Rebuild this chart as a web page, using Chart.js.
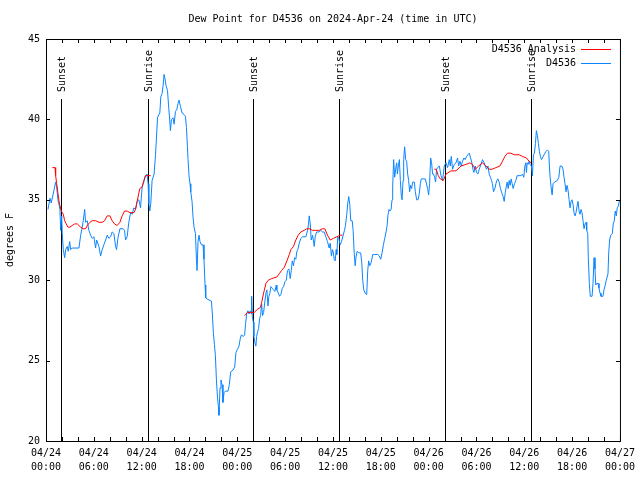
<!DOCTYPE html>
<html>
<head>
<meta charset="utf-8">
<script src="https://cdn.jsdelivr.net/npm/chart.js@4/dist/chart.umd.min.js"></script>
<style>
  body { margin: 0; background: #fff; }
  canvas { display: block; }
</style>
</head>
<body>
<canvas id="dewChart" width="640" height="480"></canvas>
<script>
// Hours since 2024-04-24 00:00 UTC
const obsHours = [
  0.25, 0.50, 0.66, 1.00, 1.21, 1.34, 1.50, 1.63, 1.75, 1.84, 1.97, 2.04, 2.17, 2.34, 2.47, 2.67, 2.79, 2.97, 3.09, 3.29,
  4.13, 4.35, 4.55, 4.67, 4.85, 4.97, 5.17, 5.38, 5.60, 5.80, 6.01, 6.22, 6.35, 6.64, 6.85, 7.05, 7.26, 7.48, 7.68, 7.89,
  8.10, 8.30, 8.52, 8.73, 8.85, 9.02, 9.27, 9.68, 9.85, 9.98, 10.18, 10.39, 10.61, 10.81, 11.02, 11.23, 11.43, 11.65, 11.86, 12.06,
  12.27, 12.48, 12.68, 12.81, 12.90, 13.02, 13.15, 13.31, 13.56, 13.74, 13.86, 13.99, 14.15, 14.28, 14.40, 14.56, 14.69, 14.81, 14.94, 15.06,
  15.24, 15.40, 15.53, 15.61, 15.74, 15.94, 16.07, 16.24, 16.40, 16.57, 16.69, 16.87, 17.07, 17.32, 17.49, 17.62, 17.74, 17.82, 17.94, 18.07,
  18.16, 18.32, 18.45, 18.57, 18.75, 18.87, 18.95, 19.07, 19.20, 19.32, 19.50, 19.70, 19.82, 19.95, 20.04, 20.32, 20.75, 20.87, 21.00, 21.13,
  21.25, 21.38, 21.50, 21.63, 21.70, 21.83, 21.95, 22.08, 22.20, 22.33, 22.50, 22.83, 23.00, 23.17, 23.45, 23.67, 23.83, 24.01, 24.21, 24.38,
  24.51, 24.76, 24.92, 25.04, 25.17, 25.33, 25.46, 25.63, 25.76, 25.80, 25.88, 26.01, 26.08, 26.21, 26.33, 26.42, 26.55, 26.67, 26.80, 26.92,
  27.05, 27.17, 27.30, 27.46, 27.59, 27.71, 27.84, 27.96, 28.09, 28.21, 28.39, 28.55, 28.71, 28.89, 28.96, 29.14, 29.30, 29.46, 29.64, 29.80,
  29.97, 30.14, 30.30, 30.47, 30.64, 30.77, 30.89, 31.05, 31.18, 31.34, 31.47, 31.59, 31.77, 31.97, 32.18, 32.60, 32.81, 32.93, 33.02, 33.15,
  33.27, 33.44, 33.65, 33.77, 33.94, 34.27, 34.47, 34.69, 34.90, 35.10, 35.31, 35.53, 35.65, 35.81, 35.94, 36.06, 36.15, 36.28, 36.40, 36.48,
  36.60, 36.73, 36.90, 37.07, 37.23, 37.44, 37.57, 37.73, 37.86, 37.98, 38.11, 38.23, 38.41, 38.53, 38.66, 38.78, 38.91, 39.04, 39.23, 39.48,
  39.61, 39.73, 39.86, 40.03, 40.23, 40.36, 40.48, 40.61, 40.79, 40.99, 41.20, 41.61, 41.82, 41.99, 42.16, 42.33, 42.49, 42.66, 42.79, 42.91,
  43.04, 43.16, 43.29, 43.41, 43.49, 43.61, 43.74, 43.86, 43.99, 44.08, 44.20, 44.33, 44.45, 44.58, 44.67, 44.79, 44.87, 44.99, 45.12, 45.24,
  45.37, 45.49, 45.62, 45.74, 45.87, 45.99, 46.21, 46.33, 46.50, 46.67, 46.83, 46.96, 47.08, 47.58, 47.87, 48.00, 48.12, 48.25, 48.37, 48.50,
  48.62, 48.75, 48.87, 49.00, 49.12, 49.34, 49.55, 49.75, 49.96, 50.18, 50.38, 50.59, 50.72, 50.84, 51.00, 51.22, 51.43, 51.63, 51.76, 51.93,
  52.09, 52.26, 52.43, 52.59, 52.76, 52.93, 53.10, 53.26, 53.43, 53.56, 53.68, 53.85, 54.01, 54.18, 54.35, 54.56, 54.76, 54.97, 55.10, 55.26,
  55.44, 55.60, 55.76, 55.89, 56.01, 56.14, 56.31, 56.44, 56.56, 56.69, 56.85, 57.01, 57.19, 57.35, 57.48, 57.60, 57.73, 57.85, 57.98, 58.10,
  58.23, 58.35, 58.48, 58.60, 58.77, 58.94, 59.10, 59.61, 59.77, 59.94, 60.07, 60.19, 60.27, 60.36, 60.48, 60.61, 60.73, 60.90, 61.02, 61.15,
  61.27, 61.40, 61.52, 61.65, 61.77, 61.90, 62.02, 62.15, 62.27, 62.48, 62.70, 62.90, 63.07, 63.15, 63.24, 63.36, 63.49, 63.61, 63.78, 64.15,
  64.33, 64.49, 64.70, 64.86, 64.99, 65.11, 65.24, 65.36, 65.49, 65.62, 65.74, 65.87, 65.99, 66.12, 66.24, 66.37, 66.49, 66.62, 66.74, 66.87,
  66.99, 67.12, 67.24, 67.37, 67.50, 67.62, 67.75, 67.83, 67.96, 68.03, 68.16, 68.28, 68.50, 68.62, 68.75, 68.87, 68.96, 69.08, 69.25, 69.37,
  69.50, 69.62, 69.87, 70.00, 70.16, 70.29, 70.50, 70.59, 70.71, 70.84, 71.04, 71.16, 71.29, 71.41, 71.54, 71.66, 71.79, 71.91, 72.00
];
const obsDewPoint = [
  34.4, 35.1, 34.8, 35.6, 36.1, 35.8, 35.0, 34.7, 34.4, 33.1, 34.0, 32.9, 31.9, 31.4, 31.9, 32.1, 31.8, 32.4, 31.9, 32.0,
  32.0, 32.8, 33.3, 33.7, 34.4, 33.6, 33.7, 33.1, 32.8, 32.6, 32.7, 32.0, 32.5, 32.1, 31.5, 31.9, 32.2, 32.5, 32.8, 32.6,
  32.7, 33.0, 32.9, 32.1, 31.9, 32.6, 33.2, 33.2, 33.1, 32.5, 32.7, 33.6, 34.2, 34.1, 34.5, 34.4, 34.9, 35.0, 34.5, 35.8,
  36.1, 36.5, 36.6, 36.0, 34.8, 34.3, 34.8, 36.2, 36.6, 37.8, 38.9, 40.1, 40.3, 40.4, 41.4, 41.6, 42.1, 42.8, 42.5, 42.1,
  41.8, 40.7, 39.9, 39.3, 40.0, 40.1, 39.7, 40.5, 40.6, 41.0, 41.2, 40.8, 40.4, 40.3, 40.2, 39.5, 38.3, 37.5, 36.5, 36.0,
  35.5, 34.9, 33.9, 33.3, 32.9, 31.3, 30.6, 32.4, 32.8, 32.4, 32.2, 32.2, 31.3, 29.7, 28.9, 28.8, 28.7, 27.9, 26.7, 26.0,
  25.3, 23.8, 22.8, 22.1, 21.6, 23.3, 23.8, 23.5, 22.4, 23.0, 23.1, 23.1, 23.5, 24.3, 24.4, 24.6, 25.5, 25.7, 25.9, 26.4,
  26.6, 26.5, 26.6, 27.3, 27.9, 28.1, 27.9, 28.1, 27.9, 29.0, 27.7, 27.4, 26.5, 26.1, 25.9, 26.5, 26.8, 27.0, 27.6, 27.8,
  28.5, 27.8, 28.0, 28.7, 29.2, 29.4, 28.4, 29.0, 29.2, 29.6, 29.5, 29.4, 29.3, 29.7, 29.4, 29.2, 29.0, 29.1, 29.5, 29.6,
  29.9, 30.0, 30.6, 30.7, 30.1, 30.6, 31.2, 30.9, 31.4, 31.3, 31.8, 31.9, 32.3, 32.6, 32.7, 32.7, 33.1, 33.5, 34.0, 33.5,
  32.5, 32.8, 32.1, 32.7, 33.0, 33.0, 33.1, 33.0, 33.0, 32.7, 32.4, 32.0, 32.3, 31.5, 31.9, 31.7, 31.3, 31.2, 31.9, 31.6,
  32.7, 32.6, 32.2, 32.4, 32.7, 33.1, 33.4, 34.1, 34.8, 35.2, 34.7, 33.7, 33.7, 33.1, 31.7, 30.9, 31.5, 31.8, 31.7, 31.7,
  31.1, 30.0, 29.4, 29.2, 29.1, 30.6, 31.2, 30.9, 31.1, 31.6, 31.6, 31.6, 31.5, 31.3, 31.7, 32.2, 32.6, 33.0, 33.4, 34.1,
  34.4, 34.3, 34.4, 35.0, 35.8, 37.5, 36.4, 36.9, 37.3, 36.6, 37.1, 37.5, 36.2, 35.2, 35.0, 36.2, 37.5, 38.3, 37.5, 37.4,
  36.6, 36.2, 35.5, 35.9, 35.7, 36.1, 36.1, 35.5, 35.0, 35.0, 35.4, 36.0, 36.3, 36.3, 35.7, 35.3, 36.0, 37.6, 37.3, 36.6,
  36.6, 36.4, 36.1, 36.9, 37.0, 37.1, 36.5, 36.2, 37.1, 37.3, 37.0, 37.5, 37.1, 37.7, 36.9, 37.2, 37.3, 37.6, 37.1, 37.4,
  37.1, 37.4, 37.6, 37.5, 37.7, 37.8, 37.9, 37.6, 37.3, 36.9, 36.7, 37.1, 36.7, 36.6, 36.9, 37.2, 37.5, 37.3, 37.1, 36.9,
  37.1, 36.6, 36.4, 36.2, 36.0, 35.5, 35.7, 36.0, 36.2, 36.3, 36.1, 35.7, 35.4, 35.2, 34.9, 35.4, 35.8, 36.1, 35.7, 36.2,
  35.9, 36.3, 36.0, 35.7, 36.0, 36.2, 36.5, 36.5, 36.6, 36.4, 37.1, 37.3, 36.7, 37.3, 37.2, 37.4, 37.2, 37.1, 36.5, 37.8,
  37.9, 38.5, 39.3, 39.0, 38.5, 38.0, 37.7, 37.5, 37.6, 37.8, 38.0, 38.1, 38.0, 37.1, 36.4, 35.8, 35.3, 36.0, 36.1, 36.2,
  36.4, 37.1, 37.1, 36.9, 36.4, 36.0, 35.5, 35.9, 35.6, 35.0, 34.5, 34.9, 35.0, 34.7, 34.2, 34.0, 34.2, 34.6, 34.9, 34.3,
  34.1, 34.4, 34.2, 33.7, 33.2, 33.5, 33.6, 33.1, 32.9, 31.4, 29.8, 29.0, 29.0, 29.8, 31.4, 30.7, 29.7, 29.8, 29.8, 29.5,
  29.2, 29.0, 29.0, 29.4, 29.7, 30.0, 30.4, 31.7, 32.5, 32.8, 32.9, 33.5, 33.7, 34.3, 34.0, 34.5, 34.6, 34.9, 35.0
];

// Analysis series, null marks the gaps between runs
const anaHours = [
  0.79, 1.13, 1.21, 1.34, 1.50, 1.67, 1.92, 2.17, 2.34, 2.54, 2.75, 3.01, 3.29, 3.59, 3.92, 4.13, 4.35, 4.67, 4.97, 5.17,
  5.51, 5.80, 6.22, 6.64, 7.05, 7.35, 7.68, 8.01, 8.30, 8.60, 8.93, 9.27, 9.55, 9.85, 10.18, 10.52, 11.02, 11.23, 11.43, 11.77,
  12.06, 12.27, 12.48, 12.90, 13.15, 19.0,
  24.92, 25.30, 25.71, 26.13, 26.55, 26.89, 27.05, 27.30, 27.59, 27.89, 28.30, 28.96, 29.26, 29.55, 29.89, 30.22, 30.52, 30.72, 31.05, 31.34,
  31.64, 31.97, 32.39, 32.72, 33.02, 33.44, 33.85, 34.27, 34.69, 34.98, 35.31, 35.65, 36.06, 36.48, 36.90, 37.19, 43.0,
  48.71, 48.96, 49.21, 49.46, 49.84, 50.18, 50.80, 51.43, 52.06, 52.68, 53.18, 53.51, 53.85, 54.26, 54.76, 55.19, 55.60, 55.94, 56.44, 56.94,
  57.27, 57.57, 57.89, 58.32, 58.73, 59.36, 59.77, 60.27, 60.61, 60.86
];
const anaDewPoint = [
  37.0, 37.0, 36.5, 36.0, 35.4, 34.8, 34.3, 34.1, 33.7, 33.5, 33.3, 33.3, 33.4, 33.5, 33.5, 33.4, 33.3, 33.2, 33.2, 33.4,
  33.6, 33.7, 33.7, 33.6, 33.6, 33.7, 34.0, 34.0, 33.7, 33.5, 33.4, 33.6, 34.0, 34.3, 34.3, 34.2, 34.2, 34.4, 34.9, 35.7,
  35.8, 36.2, 36.5, 36.5, 36.5, null,
  27.8, 28.0, 28.0, 28.0, 28.2, 28.3, 28.6, 29.2, 29.8, 30.0, 30.1, 30.2, 30.4, 30.6, 30.8, 31.2, 31.6, 31.9, 32.1, 32.5,
  32.8, 33.0, 33.1, 33.2, 33.2, 33.1, 33.1, 33.1, 33.2, 33.2, 32.8, 32.5, 32.6, 32.7, 32.8, 32.8, null,
  36.9, 36.9, 36.5, 36.3, 36.2, 36.6, 36.8, 36.8, 37.1, 37.2, 37.3, 37.2, 36.9, 37.1, 37.3, 37.1, 36.9, 36.9, 37.0, 37.1,
  37.4, 37.7, 37.9, 37.9, 37.8, 37.8, 37.7, 37.6, 37.4, 37.3
];

const sunEventHours = [1.92, 12.81, 26.0, 36.73, 50.04, 60.8];
const sunEventLabels = ['Sunset', 'Sunrise', 'Sunset', 'Sunrise', 'Sunset', 'Sunrise'];

const tickDates = ['04/24', '04/24', '04/24', '04/24', '04/25', '04/25', '04/25', '04/25', '04/26', '04/26', '04/26', '04/26', '04/27'];
const tickTimes = ['00:00', '06:00', '12:00', '18:00', '00:00', '06:00', '12:00', '18:00', '00:00', '06:00', '12:00', '18:00', '00:00'];

const FONT = '"DejaVu Sans Mono", "Liberation Mono", monospace';

const toPoints = (xs, ys) => xs.map((x, i) => ({ x: x, y: ys[i] }));

// Inward tick marks and frame, gnuplot style
const framePlugin = {
    id: 'frame',
    afterDraw(chart) {
        const { ctx, chartArea: a, scales } = chart;
        const L = 4;
        ctx.save();
        ctx.strokeStyle = '#000';
        ctx.lineWidth = 1;
        ctx.beginPath();
        scales.x.ticks.forEach(t => {
            const px = Math.round(scales.x.getPixelForValue(t.value)) + 0.5;
            ctx.moveTo(px, a.bottom); ctx.lineTo(px, a.bottom - L);
            ctx.moveTo(px, a.top); ctx.lineTo(px, a.top + L);
        });
        scales.y.ticks.forEach(t => {
            const py = Math.round(scales.y.getPixelForValue(t.value)) + 0.5;
            ctx.moveTo(a.left, py); ctx.lineTo(a.left + L, py);
            ctx.moveTo(a.right, py); ctx.lineTo(a.right - L, py);
        });
        ctx.stroke();
        ctx.strokeRect(a.left + 0.5, a.top + 0.5, a.right - a.left, a.bottom - a.top);
        ctx.restore();
    }
};

// Sunrise / sunset markers
const sunPlugin = {
    id: 'sunLines',
    beforeDatasetsDraw(chart) {
        const { ctx, chartArea: a, scales } = chart;
        ctx.save();
        ctx.strokeStyle = '#000';
        ctx.fillStyle = '#000';
        ctx.lineWidth = 1;
        ctx.font = '10px ' + FONT;
        sunEventHours.forEach((h, i) => {
            const px = Math.round(scales.x.getPixelForValue(h)) + 0.5;
            ctx.beginPath();
            ctx.moveTo(px, 99);
            ctx.lineTo(px, a.bottom);
            ctx.stroke();
            ctx.save();
            ctx.translate(px + 1, 92);
            ctx.rotate(-Math.PI / 2);
            ctx.textAlign = 'left';
            ctx.textBaseline = 'middle';
            ctx.fillText(sunEventLabels[i], 0, 0);
            ctx.restore();
        });
        ctx.restore();
    }
};

// Legend at top right: text then line sample
const legendPlugin = {
    id: 'gpLegend',
    afterDraw(chart) {
        const { ctx } = chart;
        ctx.save();
        ctx.font = '10px ' + FONT;
        ctx.textAlign = 'right';
        ctx.textBaseline = 'middle';
        chart.data.datasets.forEach((ds, i) => {
            const y = 49 + i * 14;
            ctx.fillStyle = '#000';
            ctx.fillText(ds.label, 576, y);
            ctx.strokeStyle = ds.borderColor;
            ctx.lineWidth = 1;
            ctx.beginPath();
            ctx.moveTo(581, y + 0.5);
            ctx.lineTo(611, y + 0.5);
            ctx.stroke();
        });
        ctx.restore();
    }
};

const ctx = document.getElementById('dewChart').getContext('2d');
new Chart(ctx, {
    type: 'line',
    data: {
        datasets: [
            {
                label: 'D4536 Analysis',
                data: toPoints(anaHours, anaDewPoint),
                borderColor: '#ff0000',
                borderWidth: 1,
                pointRadius: 0,
                spanGaps: false,
                tension: 0
            },
            {
                label: 'D4536',
                data: toPoints(obsHours, obsDewPoint),
                borderColor: '#0a84ff',
                borderWidth: 1,
                pointRadius: 0,
                tension: 0
            }
        ]
    },
    options: {
        responsive: false,
        animation: false,
        layout: { padding: { left: 0, right: 19, top: 0, bottom: 0 } },
        plugins: {
            legend: { display: false },
            tooltip: { enabled: false },
            title: {
                display: true,
                text: 'Dew Point for D4536 on 2024-Apr-24 (time in UTC)',
                fullSize: false,
                color: '#000',
                font: { family: FONT, size: 10, weight: 'normal', lineHeight: 1.2 },
                padding: { top: 13, bottom: 14 }
            }
        },
        scales: {
            x: {
                type: 'linear',
                min: 0,
                max: 72,
                afterFit: s => { s.height = 39; },
                grid: { display: false, drawTicks: false },
                border: { display: false },
                ticks: {
                    stepSize: 2,
                    autoSkip: false,
                    maxRotation: 0,
                    padding: 5,
                    color: '#000',
                    font: { family: FONT, size: 10, lineHeight: 1.4 },
                    callback: v => v % 6 === 0 ? [tickDates[v / 6], tickTimes[v / 6]] : ''
                }
            },
            y: {
                min: 20,
                max: 45,
                afterFit: s => { s.width = 46; },
                grid: { display: false, drawTicks: false },
                border: { display: false },
                title: {
                    display: true,
                    text: 'degrees F',
                    color: '#000',
                    font: { family: FONT, size: 10, lineHeight: 1.2 },
                    padding: { top: 4, bottom: 0 }
                },
                ticks: {
                    stepSize: 5,
                    padding: 6,
                    color: '#000',
                    font: { family: FONT, size: 10 }
                }
            }
        }
    },
    plugins: [sunPlugin, framePlugin, legendPlugin]
});
</script>
</body>
</html>
